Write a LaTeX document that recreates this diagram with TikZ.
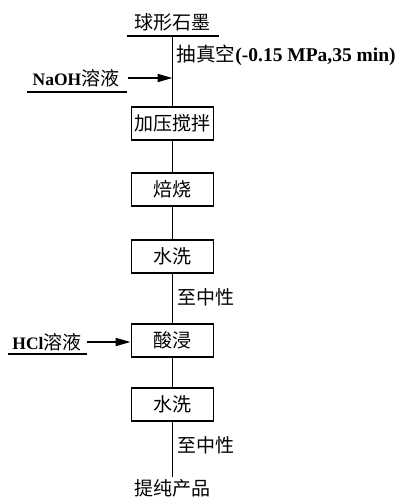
\documentclass[tikz,border=0pt]{standalone}
\usepackage{fontspec}
\setmainfont{Liberation Serif}
\newfontfamily\cjk{Noto Sans CJK SC}
\usetikzlibrary{arrows.meta}
\begin{document}
\begin{tikzpicture}[x=1pt,y=-1pt,
  line width=1.8pt,
  procbox/.style={draw, minimum width=82pt, minimum height=33pt, inner sep=0pt, font=\fontsize{19}{19}\selectfont\cjk},
  cjktxt/.style={inner sep=0pt, font=\fontsize{19}{19}\selectfont\cjk},
  feed/.style={inner sep=0pt, font=\fontsize{17.5}{17.5}\selectfont\bfseries},
  arr/.style={-{Triangle[length=15pt,width=8pt]}}]
\useasboundingbox (0,0) rectangle (395,500);
% start material
\node[cjktxt] (top) at (172.5,22) {球形石墨};
\coordinate (topL) at (127,36);
\coordinate (topR) at (219,36);
\coordinate (topB) at (172.5,36);
\draw (topL) -- (topR);
\node[anchor=west, inner sep=0pt, font=\fontsize{19.5}{19.5}\selectfont\bfseries] (vac) at (176,55) {{\cjk\mdseries 抽真空}(-0.15 MPa,35 min)};
% boxes
\node[procbox] (b1) at (172.5,123.5) {加压搅拌};
\node[procbox] (b2) at (172.5,189.5) {焙烧};
\node[procbox] (b3) at (172.5,256.5) {水洗};
\node[procbox] (b4) at (172.5,340.5) {酸浸};
\node[procbox] (b5) at (172.5,404.5) {水洗};
\node[cjktxt] (prod) at (172.5,488) {提纯产品};
\coordinate (end) at (172.5,477);
% main line
\draw (topB) -- (b1.north);
\draw (b1) -- (b2);
\draw (b2) -- (b3);
\draw (b3) -- (b4);
\draw (b4) -- (b5);
\draw (b5.south) -- (end);
\node[cjktxt, anchor=west] (n1) at (177,297) {至中性};
\node[cjktxt, anchor=west] (n2) at (177,445) {至中性};
% NaOH feed
\node[feed] (naoh) at (76,78) {NaOH{\cjk\mdseries\fontsize{19}{19}\selectfont 溶液}};
\coordinate (naohL) at (27,92);
\coordinate (naohR) at (127,92);
\draw (naohL) -- (naohR);
\coordinate (naohA) at (128,78);
\coordinate (naohB) at (172.5,78);
\draw[arr] (naohA) -- (naohB);
% HCl feed
\node[feed] (hcl) at (47,342) {HCl{\cjk\mdseries\fontsize{19}{19}\selectfont 溶液}};
\coordinate (hclL) at (8,354);
\coordinate (hclR) at (87,354);
\draw (hclL) -- (hclR);
\coordinate (hclA) at (87,342);
\draw[arr] (hclA) -- (b4.west |- hclA);
\end{tikzpicture}
\end{document}
